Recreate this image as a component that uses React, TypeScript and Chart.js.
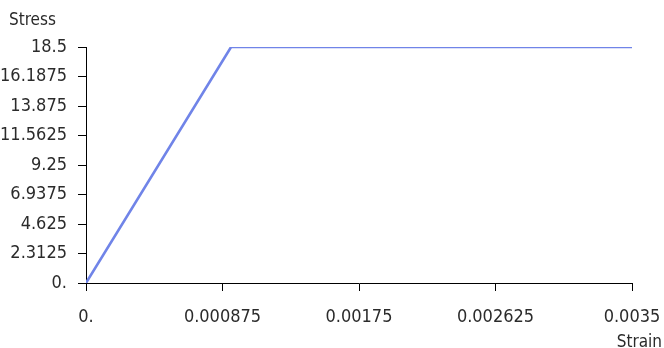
import React, { useEffect, useRef } from "react";
import { Chart, registerables } from "chart.js";

Chart.register(...registerables);

const strainValues = [0, 0.00093, 0.0035];
const stressValues = [0, 18.5, 18.5];
const xTickValues = [0, 0.000875, 0.00175, 0.002625, 0.0035];
const xTickLabels = ["0.", "0.000875", "0.00175", "0.002625", "0.0035"];
const yTickValues = [0, 2.3125, 4.625, 6.9375, 9.25, 11.5625, 13.875, 16.1875, 18.5];
const yTickLabels = ["0.", "2.3125", "4.625", "6.9375", "9.25", "11.5625", "13.875", "16.1875", "18.5"];
const yTitle = "Stress";
const xTitle = "Strain";

const FONT = "'DejaVu Sans Condensed', 'Liberation Sans Narrow', sans-serif";
const TEXT = "#2b2b2b";

export default function App() {
  const ref = useRef<HTMLCanvasElement | null>(null);

  useEffect(() => {
    if (!ref.current) return;
    const labelFor = (vals: number[], labels: string[], v: number) => {
      const i = vals.findIndex((t) => Math.abs(t - v) < 1e-9);
      return i >= 0 ? labels[i] : "";
    };
    const chart = new Chart(ref.current, {
      type: "line",
      data: {
        datasets: [
          {
            data: strainValues.map((x, i) => ({ x, y: stressValues[i] })),
            borderColor: "rgb(112,132,232)",
            borderWidth: 2.6,
            pointRadius: 0,
            tension: 0,
            fill: false,
          },
        ],
      },
      options: {
        responsive: false,
        animation: false,
        devicePixelRatio: 1,
        layout: { padding: { left: 0, top: 47, right: 32, bottom: 0 } },
        plugins: { legend: { display: false }, tooltip: { enabled: false } },
        scales: {
          x: {
            type: "linear",
            min: 0,
            max: 0.0035,
            afterBuildTicks: (s: any) => {
              s.ticks = xTickValues.map((value) => ({ value }));
            },
            afterFit: (s: any) => {
              s.height = 65;
              s.paddingLeft = 0;
              s.paddingRight = 0;
            },
            ticks: {
              autoSkip: false,
              maxRotation: 0,
              padding: 16,
              color: TEXT,
              font: { family: FONT, size: 18 },
              callback: (v: any) => labelFor(xTickValues, xTickLabels, Number(v)),
            },
            grid: { drawOnChartArea: false, drawTicks: true, tickLength: 8, color: "#000", lineWidth: 1 },
            border: { display: true, color: "#000", width: 1 },
          },
          y: {
            type: "linear",
            min: 0,
            max: 18.5,
            afterBuildTicks: (s: any) => {
              s.ticks = yTickValues.map((value) => ({ value }));
            },
            afterFit: (s: any) => {
              s.width = 86;
              s.paddingTop = 0;
              s.paddingBottom = 0;
            },
            ticks: {
              autoSkip: false,
              padding: 11,
              color: TEXT,
              font: { family: FONT, size: 18 },
              callback: (v: any) => labelFor(yTickValues, yTickLabels, Number(v)),
            },
            grid: { drawOnChartArea: false, drawTicks: true, tickLength: 8, color: "#000", lineWidth: 1 },
            border: { display: true, color: "#000", width: 1 },
          },
        },
      },
    } as any);
    return () => chart.destroy();
  }, []);

  const textStyle: React.CSSProperties = {
    position: "absolute",
    fontFamily: FONT,
    fontSize: 17,
    lineHeight: "18px",
    color: TEXT,
    whiteSpace: "nowrap",
  };

  return (
    <div style={{ position: "absolute", left: 0, top: 0, width: 664, height: 348, overflow: "hidden", background: "#fff" }}>
      <canvas ref={ref} width={664} height={348} style={{ position: "absolute", left: 0, top: 0 }} />
      <div style={{ ...textStyle, left: 9, top: 10 }}>{yTitle}</div>
      <div style={{ ...textStyle, right: 2, top: 332, textAlign: "right" }}>{xTitle}</div>
    </div>
  );
}
